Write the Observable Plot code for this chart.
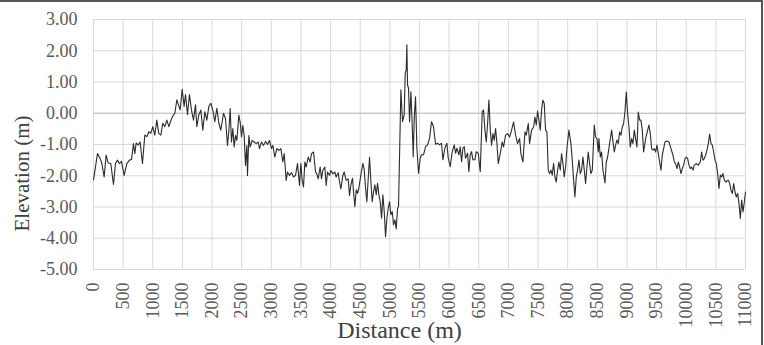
<!DOCTYPE html>
<html>
<head>
<meta charset="utf-8">
<script src="https://cdn.jsdelivr.net/npm/d3@7"></script>
<script src="https://cdn.jsdelivr.net/npm/@observablehq/plot@0.6"></script>
<style>
  html, body { margin: 0; padding: 0; background: #fff; }
  #wrap { position: relative; width: 764px; height: 345px; overflow: hidden; }
  #frame { position: absolute; left: 0; top: 0; width: 763px; height: 345px; box-sizing: border-box;
           border-top: 2px solid #555; border-right: 2px solid #555; pointer-events: none; }
  svg text { font-family: 'Liberation Serif', 'DejaVu Serif', serif; }
</style>
</head>
<body>
<div id="wrap"><div id="chart"></div><div id="frame"></div></div>
<script>
const distance = [
  0,67,112,140,180,213,247,292,337,371,404,438,472,517,562,607,641,674,697,720,753,787,826,866,900,933,967,1001,1034,1068,1102,1136,1169,1203,1237,1271,1304,1338,1372,1406,1434,1462,1496,1529,1552,1586,1619,1653,1687,1721,1743,1777,1811,1844,1878,1912,1946,1980,2013,2047,2081,2115,2148,
  2193,2227,2260,2283,2306,2328,2351,2373,2396,2418,2452,2474,2497,2519,2542,2564,2587,2598,2621,2643,2677,2711,2744,2778,2801,2834,2868,2902,2936,2969,3003,3026,3059,3093,3127,3161,3194,3217,3251,3273,3307,3341,3374,3408,3442,3476,3498,3521,3543,3566,3588,3622,3656,3678,3712,3746,3768,3791,3824,3847,3869,3903,3926,3948,3982,4004,4038,4072,4094,4128,4151,4173,4207,4229,4263,4297,4319,
  4342,4370,4387,4410,4432,4455,4477,4511,4545,4567,4590,4612,4635,4657,4680,4702,4725,4747,4770,4792,4815,4837,4860,4882,4905,4927,4950,4972,4995,5017,5040,5062,5085,5107,5130,5146,5186,5214,5242,5259,5276,5287,5298,5315,5332,5355,5377,5394,5411,5433,5456,5484,5512,5535,5568,5602,5636,5670,5703,5737,5771,5805,5838,5872,5895,5928,5962,5985,6018,6052,6086,6108,6131,6165,6187,6210,6232,6255,6277,6311,6333,6356,6378,6401,6434,6457,6491,6525,6558,
  6581,6604,6626,6649,6671,6694,6716,6739,6761,6784,6806,6829,6862,6896,6919,6952,6986,7020,7054,7087,7121,7155,7189,7211,7245,7279,7301,7335,7357,7391,7425,7447,7470,7492,7515,7537,7560,7582,7605,7627,7650,7672,7695,7717,7740,7762,7785,7807,7830,7852,7875,7897,7920,7942,7965,7987,8021,8055,8077,8100,8122,8145,8167,8190,8212,8235,8257,8280,8302,8325,8347,8370,8392,8415,8449,8471,8494,8516,8527,8550,8572,8595,8629,8651,8674,8707,8741,
  8758,8786,8809,8831,8854,8876,8899,8921,8944,8966,8989,9011,9034,9056,9079,9101,9124,9146,9169,9191,9214,9236,9259,9281,9315,9349,9371,9394,9416,9439,9461,9484,9506,9529,9551,9574,9596,9619,9641,9675,9709,9743,9776,9799,9821,9844,9866,9889,9911,9934,9956,9979,10001,10024,10046,10069,10091,10114,10136,10170,10204,10238,10260,10283,10305,10328,10350,10373,10395,10418,10440,10463,10485,10508,10530,10553,10575,10598,10620,10643,10665,10688,10710,10733,10755,10778,10800,10823,10845,10868,10890,10913,10935,10958,10980,11000
];
const elevation = [
  -2.13,-1.29,-1.45,-1.60,-2.04,-1.34,-1.59,-1.61,-2.28,-1.61,-1.50,-1.61,-1.54,-1.99,-1.61,-1.50,-1.48,-0.97,-1.29,-0.95,-1.02,-0.92,-1.61,-0.70,-0.75,-0.59,-0.64,-0.43,-0.70,-0.22,-0.65,-0.70,-0.32,-0.43,-0.22,-0.43,-0.24,-0.09,0.00,0.43,0.27,0.11,0.77,0.22,0.60,-0.05,0.60,0.10,-0.22,0.27,-0.43,-0.05,0.10,-0.54,0.05,-0.22,0.22,0.32,0.10,-0.27,0.16,-0.32,-0.54,
  0.00,-0.17,-1.03,-0.60,0.15,-0.92,-0.49,-1.08,-0.71,-0.87,-0.06,-0.28,-0.76,-0.39,-0.71,-1.67,-1.03,-1.99,-0.71,-1.08,-0.87,-0.92,-0.97,-0.92,-1.13,-0.92,-1.03,-0.90,-1.00,-0.87,-1.13,-1.03,-1.40,-1.13,-1.19,-1.13,-1.56,-1.29,-2.15,-1.88,-1.99,-1.90,-2.04,-1.99,-1.61,-2.31,-1.61,-2.15,-2.36,-1.56,-1.72,-1.40,-1.56,-1.29,-1.24,-1.88,-1.94,-2.10,-1.72,-2.10,-1.83,-1.72,-2.31,-1.88,-1.99,-1.83,-1.94,-1.88,-2.04,-1.90,-2.20,-2.42,-1.99,-1.88,-2.15,-2.10,-2.63,
  -2.29,-2.08,-2.51,-2.99,-2.45,-2.56,-2.40,-1.97,-1.60,-1.81,-2.40,-2.83,-2.08,-1.41,-2.19,-2.83,-2.51,-2.29,-2.61,-2.24,-2.61,-2.83,-3.36,-2.61,-3.15,-3.95,-3.36,-3.04,-2.83,-3.25,-3.15,-3.57,-3.41,-3.70,-3.04,-2.99,0.75,-0.27,-0.05,1.28,1.39,2.19,0.91,0.80,-0.27,0.69,-0.37,-1.39,-0.16,0.53,-1.12,-1.92,-1.44,-1.33,-1.33,-1.07,-1.01,-0.80,-0.27,-0.43,-0.99,-0.96,-1.01,-0.96,-1.49,-1.12,-0.96,-1.44,-1.71,-1.23,-1.01,-1.28,-1.12,-1.33,-1.07,-1.55,-1.12,-1.07,-1.44,-1.28,-1.87,-1.33,-1.23,-1.49,-1.49,-1.23,-1.28,-1.87,0.05,
  0.10,-0.54,-0.92,-0.33,0.42,-0.54,-1.02,-0.65,-0.86,-0.49,-0.97,-1.61,-1.29,-0.92,-1.08,-0.70,-0.65,-0.76,-0.54,-0.28,-0.70,-0.97,-0.81,-1.29,-1.56,-0.60,-0.70,-0.33,-0.97,-0.54,-0.44,-0.12,-0.38,0.07,-0.22,-0.54,0.10,0.42,0.31,-0.54,-0.60,-1.82,-1.93,-1.82,-1.98,-1.61,-2.04,-2.20,-1.82,-1.56,-1.82,-1.29,-1.61,-2.04,-1.72,-1.13,-0.54,-0.97,-1.50,-2.14,-2.68,-2.04,-1.82,-1.50,-1.93,-1.82,-1.40,-1.82,-2.25,-1.72,-1.24,-1.61,-1.93,-1.82,-0.38,-0.76,-0.81,-1.24,-0.81,-1.40,-1.24,-1.82,-2.23,-1.56,-1.40,-0.97,-0.54,
  -0.81,-1.24,-1.02,-0.86,-0.97,-0.60,-0.70,-0.44,-0.33,0.04,0.68,-0.01,-0.44,-1.08,-0.81,-0.97,-0.54,-0.81,-1.08,0.04,-0.22,-0.22,-0.54,-1.24,-0.81,-0.54,-0.38,-0.65,-1.13,-1.18,-1.13,-1.24,-1.02,-1.29,-1.56,-1.82,-1.34,-1.13,-0.92,-0.89,-0.92,-1.13,-1.34,-1.56,-1.61,-1.77,-1.56,-1.72,-1.93,-1.77,-1.66,-1.45,-1.40,-1.45,-1.66,-1.77,-1.72,-1.82,-1.66,-1.61,-1.66,-1.56,-1.24,-1.50,-1.45,-1.34,-1.18,-0.97,-0.67,-0.97,-1.02,-1.24,-1.50,-1.61,-1.93,-2.41,-1.98,-2.04,-1.93,-2.14,-2.20,-2.17,-2.14,-2.25,-2.46,-2.57,-2.25,-2.52,-2.68,-2.57,-2.89,-3.37,-2.78,-3.16,-2.84,-2.52
];
const xTicks = [0,500,1000,1500,2000,2500,3000,3500,4000,4500,5000,5500,6000,6500,7000,7500,8000,8500,9000,9500,10000,10500,11000];
const yTicks = [-5,-4,-3,-2,-1,0,1,2,3];
const xTitle = "Distance (m)";
const yTitle = "Elevation (m)";

const data = distance.map((d, i) => ({d, e: elevation[i]}));
const serif = "'Liberation Serif', 'DejaVu Serif', serif";

const chart = Plot.plot({
  width: 764,
  height: 345,
  marginLeft: 93,
  marginRight: 19,
  marginTop: 19,
  marginBottom: 76,
  style: {fontFamily: serif, color: "#595959", background: "transparent"},
  x: {domain: [0, 11000]},
  y: {domain: [-5, 3]},
  marks: [
    Plot.ruleX(xTicks, {stroke: "#d9d9d9", strokeWidth: 1}),
    Plot.ruleY(yTicks, {stroke: "#d9d9d9", strokeWidth: 1}),
    Plot.ruleY([0], {stroke: "#bfbfbf", strokeWidth: 1}),
    Plot.axisY(yTicks, {tickSize: 0, tickPadding: 16, fontSize: 18, fontFamily: serif, fontVariant: "normal", tickFormat: d => d.toFixed(2), label: null, fill: "#595959"}),
    Plot.axisX(xTicks, {tickSize: 0, tickPadding: 13, tickRotate: -90, fontSize: 18, fontFamily: serif, fontVariant: "normal", tickFormat: d => String(d), label: null, fill: "#595959"}),
    Plot.line(data, {x: "d", y: "e", stroke: "#2b2b2b", strokeWidth: 1.1}),
    Plot.text([yTitle], {frameAnchor: "left", dx: -71, dy: 29, rotate: -90, textAnchor: "middle", lineAnchor: "middle", fontSize: 21, fontFamily: serif, fill: "#404040"}),
    Plot.text([xTitle], {frameAnchor: "bottom", dx: -20, dy: 61, textAnchor: "middle", lineAnchor: "middle", fontSize: 24, fontFamily: serif, fill: "#404040"})
  ]
});
document.getElementById("chart").appendChild(chart);
</script>
</body>
</html>
